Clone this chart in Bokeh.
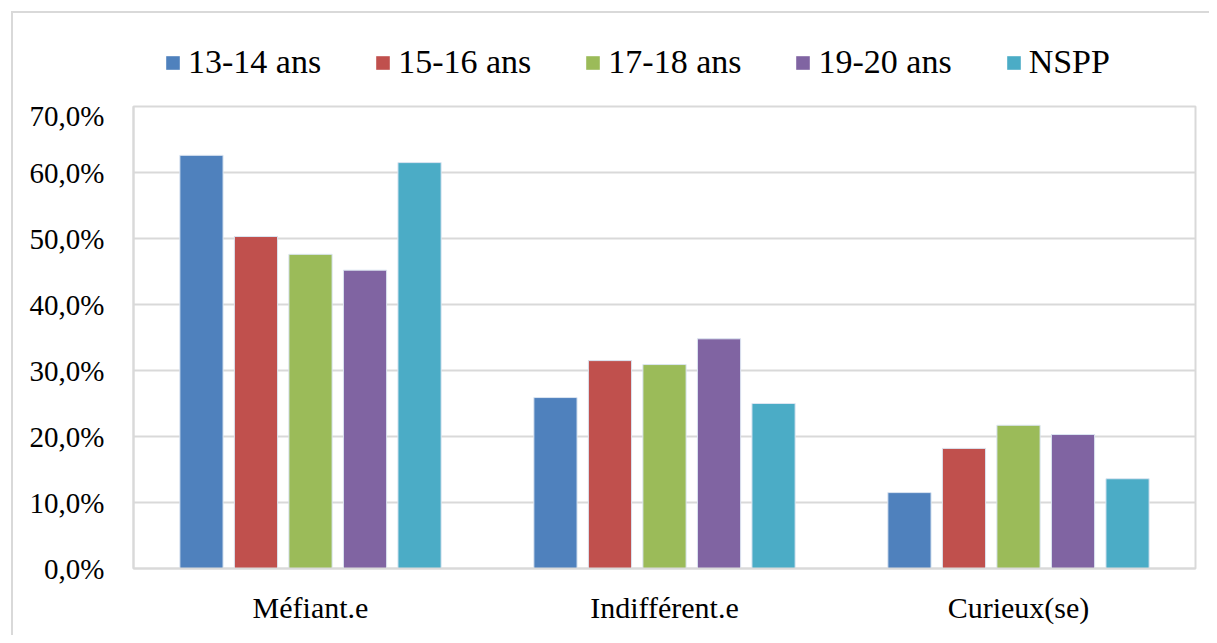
from bokeh.plotting import figure
from bokeh.layouts import column
from bokeh.models import ColumnDataSource, FixedTicker, Legend, LegendItem, FactorRange, Range1d
from bokeh.transform import dodge
from bokeh.embed import file_html
from bokeh.resources import INLINE

categories = ["Méfiant.e", "Indifférent.e", "Curieux(se)"]
series = ["13-14 ans", "15-16 ans", "17-18 ans", "19-20 ans", "NSPP"]
v_13_14 = [62.6, 25.9, 11.5]
v_15_16 = [50.3, 31.5, 18.2]
v_17_18 = [47.6, 30.9, 21.7]
v_19_20 = [45.2, 34.8, 20.3]
v_nspp = [61.5, 25.0, 13.6]
y_ticks = [0, 10, 20, 30, 40, 50, 60, 70]
y_tick_labels = ["0,0%", "10,0%", "20,0%", "30,0%", "40,0%", "50,0%", "60,0%", "70,0%"]

colors = ["#4F81BD", "#C0504D", "#9BBB59", "#8064A2", "#4BACC6"]
values = [v_13_14, v_15_16, v_17_18, v_19_20, v_nspp]
keys = ["s0", "s1", "s2", "s3", "s4"]

data = {"cat": categories}
for k, v in zip(keys, values):
    data[k] = v
src = ColumnDataSource(data)

FONT = "Liberation Serif"
W = 1196
offsets = [-0.308, -0.154, 0.0, 0.154, 0.308]

# main chart
p = figure(x_range=FactorRange(*categories), y_range=Range1d(0, 70),
           width=W, height=536, output_backend="svg", toolbar_location=None,
           min_border_left=120, min_border_right=14, min_border_top=7, min_border_bottom=67)
p.x_range.range_padding = 0

for k, off, c in zip(keys, offsets, colors):
    p.vbar(x=dodge("cat", off, range=p.x_range), top=k, width=0.122, source=src,
           fill_color=c, line_color="#dbe5f1", line_width=1)

p.yaxis.ticker = FixedTicker(ticks=y_ticks)
p.yaxis.major_label_overrides = {t: l for t, l in zip(y_ticks, y_tick_labels)}
for ax in (p.xaxis, p.yaxis):
    ax.axis_line_color = "#d9d9d9"
    ax.axis_line_width = 2
    ax.major_tick_line_color = None
    ax.minor_tick_line_color = None
    ax.major_label_text_font = FONT
    ax.major_label_text_color = "#000000"
p.yaxis.major_label_text_font_size = "29px"
p.yaxis.major_label_standoff = 23
p.xaxis.major_label_text_font_size = "30px"
p.xaxis.major_label_standoff = 16

p.xgrid.grid_line_color = None
p.ygrid.grid_line_color = "#d9d9d9"
p.ygrid.grid_line_width = 2
p.outline_line_color = "#d9d9d9"
p.outline_line_width = 2

# legend strip (same series, drawn outside its visible range so only the legend shows)
lg = figure(x_range=FactorRange(*categories), y_range=Range1d(1000, 1001),
            width=W, height=86, output_backend="svg", toolbar_location=None,
            min_border_left=0, min_border_right=0, min_border_top=0, min_border_bottom=0)
lg.axis.visible = False
lg.grid.grid_line_color = None
lg.outline_line_color = None
leg_renderers = []
for k, off, c in zip(keys, offsets, colors):
    r = lg.vbar(x=dodge("cat", off, range=lg.x_range), top=k, width=0.122, source=src,
                fill_color=c, line_color=None)
    leg_renderers.append(r)

legend = Legend(items=[LegendItem(label=s, renderers=[r]) for s, r in zip(series, leg_renderers)],
                orientation="horizontal", location=(31, 18),
                label_text_font=FONT, label_text_font_size="34px", label_text_color="#000000",
                glyph_width=17, glyph_height=17, label_standoff=7, spacing=53,
                border_line_color=None, background_fill_alpha=0, padding=0, margin=0)
lg.add_layout(legend)

layout = column(lg, p, spacing=0)
layout.styles = {"border-left": "2px solid #d9d9d9", "border-top": "2px solid #d9d9d9",
                 "margin-left": "11px", "margin-top": "11px"}

open("out.html", "w").write(file_html(layout, INLINE))
